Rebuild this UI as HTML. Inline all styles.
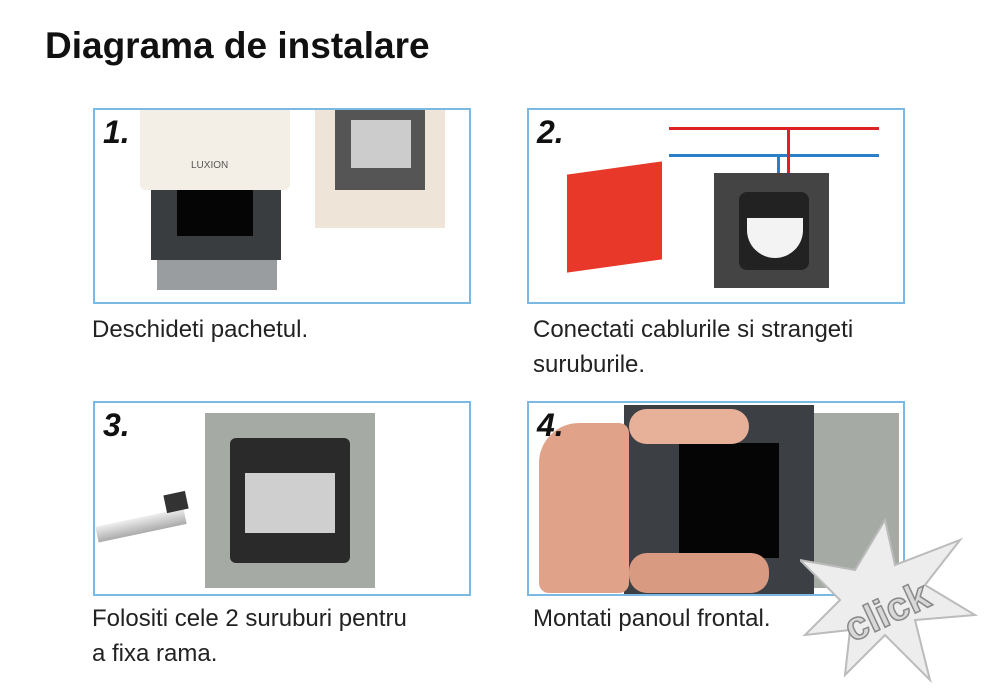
<!DOCTYPE html>
<html><head><meta charset="utf-8"><style>
body{margin:0;width:1000px;height:698px;background:#fff;position:relative;overflow:hidden;font-family:"Liberation Sans",sans-serif}
.a{position:absolute}
.p{position:absolute;border:2px solid #7cb8e4;box-sizing:border-box;overflow:hidden;background:#fff}
.n{position:absolute;font-weight:bold;font-style:italic;font-size:32px;color:#111;left:8px;top:4px;z-index:5}
.c{position:absolute;font-size:24px;color:#222;line-height:35px}
</style></head><body>
<div class="a" style="left:45px;top:25px;font-size:37px;font-weight:bold;color:#111">Diagrama de instalare</div>

<div class="p" style="left:93px;top:108px;width:378px;height:196px">
 <div class="n">1.</div>
 <div class="a" style="left:62px;top:140px;width:120px;height:40px;background:#9a9d9f"></div>
 <div class="a" style="left:56px;top:70px;width:130px;height:80px;background:#3a3d40"></div>
 <div class="a" style="left:82px;top:76px;width:76px;height:50px;background:#050505"></div>
 <div class="a" style="left:45px;top:0;width:150px;height:80px;background:#f4efe6;border-radius:0 0 6px 6px"></div>
 <div class="a" style="left:96px;top:50px;font-size:10px;color:#555">LUXION</div>
 <div class="a" style="left:220px;top:0;width:130px;height:118px;background:#efe4d8"></div>
 <div class="a" style="left:240px;top:0;width:90px;height:80px;background:#555"></div>
 <div class="a" style="left:256px;top:10px;width:60px;height:48px;background:#ccc"></div>
</div>

<div class="p" style="left:527px;top:108px;width:378px;height:196px">
 <div class="n">2.</div>
 <div class="a" style="left:140px;top:17px;width:210px;height:3px;background:#d22"></div>
 <div class="a" style="left:140px;top:44px;width:210px;height:3px;background:#2a7fc8"></div>
 <div class="a" style="left:258px;top:17px;width:3px;height:80px;background:#d22"></div>
 <div class="a" style="left:248px;top:44px;width:3px;height:55px;background:#2a7fc8"></div>
 <div class="a" style="left:38px;top:58px;width:95px;height:98px;background:#e8382a;transform:skewY(-8deg)"></div>
 <div class="a" style="left:185px;top:63px;width:115px;height:115px;background:#444"></div>
 <div class="a" style="left:210px;top:82px;width:70px;height:78px;background:#222;border-radius:8px"></div>
 <div class="a" style="left:218px;top:108px;width:56px;height:40px;background:#f3f3f3;border-radius:0 0 28px 28px"></div>
</div>

<div class="p" style="left:93px;top:401px;width:378px;height:195px">
 <div class="n">3.</div>
 <div class="a" style="left:0;top:105px;width:90px;height:16px;background:linear-gradient(#eee,#aaa);transform:rotate(-12deg);transform-origin:right"></div>
 <div class="a" style="left:70px;top:90px;width:22px;height:18px;background:#333;transform:rotate(-12deg)"></div>
 <div class="a" style="left:110px;top:10px;width:170px;height:175px;background:#a6aaa5"></div>
 <div class="a" style="left:135px;top:35px;width:120px;height:125px;background:#2a2a2a;border-radius:6px"></div>
 <div class="a" style="left:150px;top:70px;width:90px;height:60px;background:#cfcfcf"></div>
</div>

<div class="p" style="left:527px;top:401px;width:378px;height:195px">
 <div class="n">4.</div>
 <div class="a" style="left:270px;top:10px;width:100px;height:175px;background:#a6aaa5"></div>
 <div class="a" style="left:95px;top:2px;width:190px;height:190px;background:#3c3f43"></div>
 <div class="a" style="left:150px;top:40px;width:100px;height:115px;background:#050505"></div>
 <div class="a" style="left:10px;top:20px;width:90px;height:170px;background:#e0a38a;border-radius:40px 10px 10px 10px"></div>
 <div class="a" style="left:100px;top:6px;width:120px;height:35px;background:#e7b098;border-radius:18px"></div>
 <div class="a" style="left:100px;top:150px;width:140px;height:40px;background:#d99a82;border-radius:18px"></div>
</div>
<svg class="a" style="left:800px;top:515px" width="180" height="170" viewBox="0 0 180 170">
<polygon points="85,5 95,50 160,25 125,70 175,100 115,105 130,165 85,120 45,160 50,115 5,120 40,85 0,45 55,55" fill="#ededed" stroke="#bbb" stroke-width="2"/>
<text x="40" y="108" font-family="Liberation Sans,sans-serif" font-size="40" font-weight="bold" fill="#d8d8d8" stroke="#888" stroke-width="1.5" transform="rotate(-25 90 90)">click</text>
</svg>

<div class="c" style="left:92px;top:312px">Deschideti pachetul.</div>
<div class="c" style="left:533px;top:312px">Conectati cablurile si strangeti<br>suruburile.</div>
<div class="c" style="left:92px;top:601px">Folositi cele 2 suruburi pentru<br>a fixa rama.</div>
<div class="c" style="left:533px;top:601px">Montati panoul frontal.</div>
</body></html>
